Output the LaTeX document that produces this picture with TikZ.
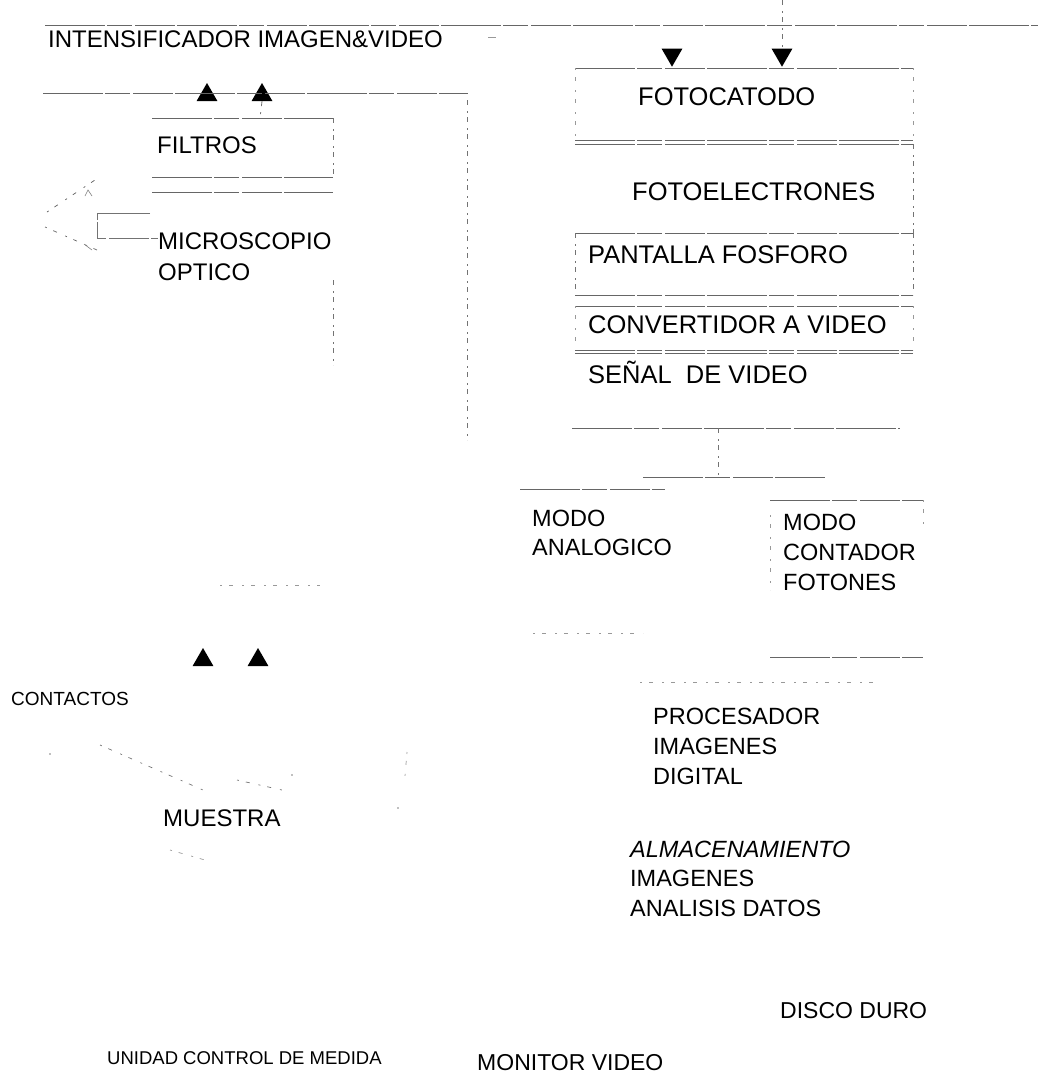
\documentclass[tikz,border=0pt]{standalone}
\usepackage{fontspec}
\setmainfont{Liberation Sans}
\usetikzlibrary{shapes.geometric}
\newcommand\szA{\fontsize{25.5}{30}\selectfont}
\newcommand\szB{\fontsize{23.5}{30}\selectfont}
\newcommand\szC{\fontsize{19}{23}\selectfont}
\newcommand\szD{\fontsize{18.5}{22}\selectfont}
\tikzset{
  ln/.style={draw=black!60, line width=0.9pt, dash pattern=on 60pt off 2pt on 25pt off 3pt on 40pt off 2pt},
  vl/.style={draw=black!55, line width=0.8pt, dash pattern=on 5pt off 6pt on 2pt off 4pt},
  dl/.style={draw=black!40, line width=0.7pt, dash pattern=on 2pt off 7pt on 4pt off 9pt},
  tri/.style={fill=black, draw=none, regular polygon, regular polygon sides=3, minimum size=24pt, inner sep=0pt},
  tridown/.style={tri, shape border rotate=180},
  lbl/.style={inner sep=0pt, anchor=base west},
  mlbl/.style={inner sep=0pt, anchor=north west, align=left},
}
\begin{document}
\begin{tikzpicture}[x=1pt, y=-1pt]
\useasboundingbox (0,0) rectangle (1038,1084);

% ---------- texts ----------
\node[lbl, font=\fontsize{24}{28}\selectfont] (intens) at (48,47) {INTENSIFICADOR IMAGEN\&VIDEO};
\node[lbl, font=\szA] (fotocat) at (638,105) {FOTOCATODO};
\node[lbl, font=\szA] (fotoel) at (632,200) {FOTOELECTRONES};
\node[lbl, font=\szA] (pantalla) at (588,263) {PANTALLA FOSFORO};
\node[lbl, font=\szA] (conv) at (588,333) {CONVERTIDOR A VIDEO};
\node[lbl, font=\szA] (senal) at (588,383) {SEÑAL\ \ DE VIDEO};
\node[mlbl, font=\fontsize{23.5}{29}\selectfont] (analog) at (532,509.6) {MODO\\ANALOGICO};
\node[mlbl, font=\szB] (contador) at (783,513.6) {MODO\\CONTADOR\\FOTONES};
\node[mlbl, font=\szB] (proc) at (653,707.6) {PROCESADOR\\IMAGENES\\DIGITAL};
\node[mlbl, font=\fontsize{23.5}{29.5}\selectfont] (almac) at (630,840.6) {\itshape ALMACENAMIENTO\\IMAGENES\\ANALISIS DATOS};
\node[lbl, font=\fontsize{23}{28}\selectfont] (disco) at (780,1018) {DISCO DURO};
\node[lbl, font=\fontsize{23}{28}\selectfont] (monitor) at (477,1070) {MONITOR VIDEO};
\node[lbl, font=\szD] (unidad) at (107,1064) {UNIDAD CONTROL DE MEDIDA};
\node[lbl, font=\fontsize{24}{28}\selectfont] (filtros) at (157,153.6) {FILTROS};
\node[mlbl, font=\fontsize{24}{31}\selectfont] (micro) at (158,232.6) {MICROSCOPIO\\OPTICO};
\node[lbl, font=\szC] (contactos) at (11,705.8) {CONTACTOS};
\node[lbl, font=\fontsize{24}{28}\selectfont] (muestra) at (163,826.6) {MUESTRA};

% ---------- triangles ----------
\node[tridown] (td1) at (672,54.7) {};
\node[tridown] (td2) at (782,54.7) {};
\node[tri] (tu1) at (207,95) {};
\node[tri] (tu2) at (262,95) {};
\node[tri] (tb1) at (203,660) {};
\node[tri] (tb2) at (258,660) {};

% ---------- coordinates ----------
\coordinate (topL) at (45,25);
\coordinate (topR) at (1038,25);
\coordinate (inlet) at (782,0);
\coordinate (fcTL) at (575,68);
\coordinate (fcTR) at (913,68);

% ---------- right column ----------
\draw[ln] (topL) -- (topR);
\draw[draw=black!40, line width=0.8pt] (488,37) -- (496,37);
\draw[vl] (inlet) -- (td2.north);
\draw[ln] (fcTL) -- (fcTR);
\draw[dl] (fcTR) -- (913,140);
\draw[dl] (fcTL) -- (575,140);
\draw[ln] (575,140) -- (913,140);
\draw[ln] (575,144) -- (913,144);
\draw[vl] (913,144) -- (913,233);
\draw[ln] (575,233) -- (913,233);
\draw[vl] (575,233) -- (575,295);
\draw[vl] (913,233) -- (913,295);
\draw[ln] (575,295) -- (913,295);
\draw[ln] (575,306) -- (913,306);
\draw[dl] (575,306) -- (575,350);
\draw[dl] (913,306) -- (913,350);
\draw[ln] (575,350) -- (913,350);
\draw[ln] (575,353) -- (913,353);
\coordinate (sigL) at (572,428);
\coordinate (sigR) at (900,428);
\coordinate (sigM) at (718,428);
\coordinate (splitM) at (718,477);
\draw[ln] (sigL) -- (sigR);
\draw[vl] (sigM) -- (splitM);
\draw[ln] (643,477) -- (825,477);
\draw[ln] (520,489) -- (665,489);
\draw[ln] (770,500) -- (923,500);
\draw[dl] (923,500) -- (923,527);
\draw[dl] (770,515) -- (770,590);
\draw[dl] (533,633) -- (643,633);
\draw[ln] (770,657) -- (923,657);
\draw[dl] (640,682) -- (873,682);

% ---------- left column ----------
\coordinate (barL) at (43,93);
\coordinate (barR) at (468,93);
\draw[ln] (barL) -- (barR);
\draw[vl] (tu2.south) -- (260,118);
\draw[ln] (152,118) -- (333,118);
\draw[vl] (333,118) -- (333,177);
\draw[ln] (152,177) -- (333,177);
\draw[ln] (152,192) -- (333,192);
\draw[vl] (467,100) -- (467,440);
\draw[vl] (333,280) -- (333,365);
% objective lens
\draw[dl, draw=black!60] (47,212) -- (95,180);
\draw[dl, draw=black!60] (45,227) -- (97,250);
\draw[draw=black!50, line width=0.6pt] (85,196) -- (88,190) -- (92,196);
\draw[draw=black!50, line width=0.6pt] (84,244) -- (92,250);
% bracket to MICROSCOPIO
\draw[ln, draw=black!55] (150,213) -- (97,213) -- (97,238) -- (micro.west |- 0,238);

% ---------- lower left ----------
\draw[dl] (220,585) -- (320,585);
\draw[dl, draw=black!55] (100,745) -- (203,790);
\draw[dl, draw=black!55] (237,780) -- (282,790);
\fill[black!50] (50,754) circle (0.8pt) (292,775) circle (0.8pt) (398,808) circle (0.8pt);
\draw[dl] (407,752) -- (405,776);
\draw[dl] (170,850) -- (205,860);
\end{tikzpicture}
\end{document}
